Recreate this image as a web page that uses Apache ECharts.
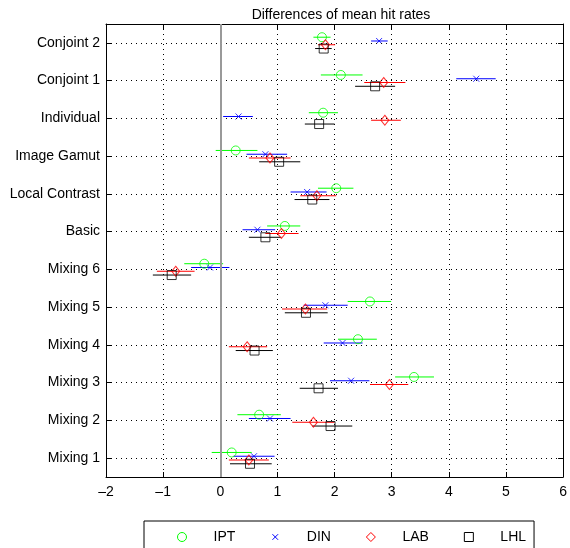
<!DOCTYPE html>
<html>
<head>
<meta charset="utf-8">
<script src="https://cdn.jsdelivr.net/npm/echarts@6/dist/echarts.min.js"></script>
<style>html,body{margin:0;padding:0;background:#fff}#c{width:570px;height:548px}</style>
</head>
<body>
<div id="c"></div>
<script>
// categories listed bottom-to-top
const categories = ['Mixing 1','Mixing 2','Mixing 3','Mixing 4','Mixing 5','Mixing 6','Basic','Local Contrast','Image Gamut','Individual','Conjoint 1','Conjoint 2'];
const seriesNames = ['IPT','DIN','LAB','LHL'];

const iptMean = [0.20, 0.68, 3.39, 2.41, 2.62, -0.28, 1.13, 2.03, 0.27, 1.80, 2.11, 1.78];
const iptLow  = [-0.15, 0.30, 3.06, 2.06, 2.23, -0.63, 0.82, 1.71, -0.08, 1.55, 1.76, 1.63];
const iptHigh = [0.55, 1.06, 3.74, 2.74, 2.99, 0.05, 1.40, 2.33, 0.65, 2.06, 2.49, 1.93];

const dinMean = [0.59, 0.87, 2.29, 2.14, 1.84, -0.18, 0.65, 1.52, 0.79, 0.32, 4.48, 2.78];
const dinLow  = [0.23, 0.50, 1.92, 1.81, 1.46, -0.51, 0.39, 1.23, 0.46, 0.05, 4.13, 2.64];
const dinHigh = [0.95, 1.23, 2.61, 2.49, 2.23, 0.16, 0.96, 1.86, 1.17, 0.57, 4.82, 2.93];

const labMean = [0.50, 1.63, 2.96, 0.47, 1.49, -0.78, 1.07, 1.69, 0.87, 2.88, 2.86, 1.84];
const labLow  = [0.15, 1.26, 2.62, 0.15, 1.08, -1.11, 0.79, 1.40, 0.50, 2.64, 2.52, 1.71];
const labHigh = [0.85, 2.00, 3.29, 0.82, 1.87, -0.45, 1.37, 2.03, 1.23, 3.16, 3.24, 2.01];

const lhlMean = [0.52, 1.93, 1.72, 0.60, 1.50, -0.85, 0.79, 1.61, 1.03, 1.73, 2.71, 1.81];
const lhlLow  = [0.17, 1.61, 1.39, 0.27, 1.13, -1.18, 0.50, 1.30, 0.68, 1.48, 2.36, 1.66];
const lhlHigh = [0.90, 2.31, 2.06, 0.92, 1.88, -0.51, 1.07, 1.91, 1.40, 2.00, 3.06, 1.95];

const xMin = -2, xMax = 6, xStep = 1;

// styling
const FONT = 'Liberation Sans, Arial, Helvetica, sans-serif';
const X_PATH = 'path://M0,0L10,10M10,0L0,10';
const X_LEGEND_PATH = 'path://M-3,-3L-3,-3M13,13L13,13M0,0L10,10M10,0L0,10';
const styles = [
  {color:'#00ff00', symbol:'circle', size:9, offset:0.15},
  {color:'#0000ff', symbol:X_PATH, size:6, offset:0.05},
  {color:'#ff0000', symbol:'diamond', size:[8,10], offset:-0.05},
  {color:'#000000', symbol:'rect', size:9, offset:-0.15}
];
const allData = [[iptMean,iptLow,iptHigh],[dinMean,dinLow,dinHigh],[labMean,labLow,labHigh],[lhlMean,lhlLow,lhlHigh]];
const catPos = categories.map((c,i)=>i+1);

const series = [];
// grid lines and zero line
series.push({
  type:'scatter', name:'_grid', data:[], z:1, silent:true,
  markLine:{
    silent:true, symbol:['none','none'], label:{show:false}, animation:false,
    data: catPos.map(p=>({yAxis:p, lineStyle:{color:'#000', width:1, type:[1,4]}}))
      .concat([{xAxis:0, lineStyle:{color:'#999', width:2, type:'solid'}}])
  }
});
seriesNames.forEach((name, k)=>{
  const st = styles[k];
  const [m, lo, hi] = allData[k];
  series.push({
    type:'custom', name:name, z:3, silent:true,
    encode:{x:[0,1], y:2},
    data: catPos.map((p,i)=>[lo[i], hi[i], p + st.offset]),
    renderItem:function(params, api){
      const a = api.coord([api.value(0), api.value(2)]);
      const b = api.coord([api.value(1), api.value(2)]);
      return {type:'line', shape:{x1:a[0], y1:a[1], x2:b[0], y2:b[1]}, style:{stroke:st.color, lineWidth:1}};
    }
  });
  series.push({
    type:'scatter', name:name, z:4, silent:true,
    symbol: st.symbol, symbolSize: st.size,
    itemStyle:{color:'none', borderColor:st.color, borderWidth:1},
    data: catPos.map((p,i)=>[m[i], p + st.offset])
  });
});

const axisLabelCommon = {color:'#000', fontFamily:FONT, fontSize:14};
const fmtX = v => (v<0 ? '\u2013' + Math.abs(v) : String(v));

const option = {
  animation:false,
  backgroundColor:'#fff',
  title:{text:'Differences of mean hit rates', left:336, top:3, textAlign:'center',
    textStyle:{fontFamily:FONT, fontSize:14, fontWeight:'normal', color:'#000'}},
  grid:{left:106, right:4, top:24, bottom:71},
  legend:{
    left:144, top:521, itemWidth:9, itemHeight:9, itemGap:33,
    padding:[9,8,20,31], borderColor:'#000', borderWidth:1,
    textStyle:{fontFamily:FONT, fontSize:14, color:'#000', padding:[0,0,0,22]},
    selectedMode:false,
    data:[
      {name:'IPT', icon:'circle', itemStyle:{color:'none', borderColor:'#00ff00', borderWidth:1}},
      {name:'DIN', icon:X_LEGEND_PATH, itemStyle:{color:'none', borderColor:'#0000ff', borderWidth:1}},
      {name:'LAB', icon:'diamond', itemStyle:{color:'none', borderColor:'#ff0000', borderWidth:1}},
      {name:'LHL', icon:'rect', itemStyle:{color:'none', borderColor:'#000000', borderWidth:1}}
    ]
  },
  xAxis:[
    {type:'value', min:xMin, max:xMax, interval:xStep, position:'bottom',
     axisLine:{show:true, onZero:false, lineStyle:{color:'#000', width:1}},
     axisTick:{show:true, inside:true, length:5, lineStyle:{color:'#000'}},
     axisLabel:Object.assign({formatter:fmtX, margin:8}, axisLabelCommon),
     splitLine:{show:true, lineStyle:{color:'#000', width:1, type:[1,4]}}},
    {type:'value', min:xMin, max:xMax, interval:xStep, position:'top',
     axisLine:{show:true, onZero:false, lineStyle:{color:'#000', width:1}},
     axisTick:{show:true, inside:true, length:5, lineStyle:{color:'#000'}},
     axisLabel:{show:false}, splitLine:{show:false}}
  ],
  yAxis:[
    {type:'value', min:0.5, max:12.5, position:'left',
     axisLine:{show:true, onZero:false, lineStyle:{color:'#000', width:1}},
     axisTick:{show:true, inside:true, length:5, customValues:catPos, lineStyle:{color:'#000'}},
     axisLabel:Object.assign({customValues:catPos, margin:6, formatter:v=>categories[Math.round(v)-1]}, axisLabelCommon),
     splitLine:{show:false}},
    {type:'value', min:0.5, max:12.5, position:'right',
     axisLine:{show:true, onZero:false, lineStyle:{color:'#000', width:1}},
     axisTick:{show:true, inside:true, length:5, customValues:catPos, lineStyle:{color:'#000'}},
     axisLabel:{show:false}, splitLine:{show:false}}
  ],
  series:series
};
const chart = echarts.init(document.getElementById('c'), null, {renderer:'canvas'});
chart.setOption(option);
</script>
</body>
</html>
